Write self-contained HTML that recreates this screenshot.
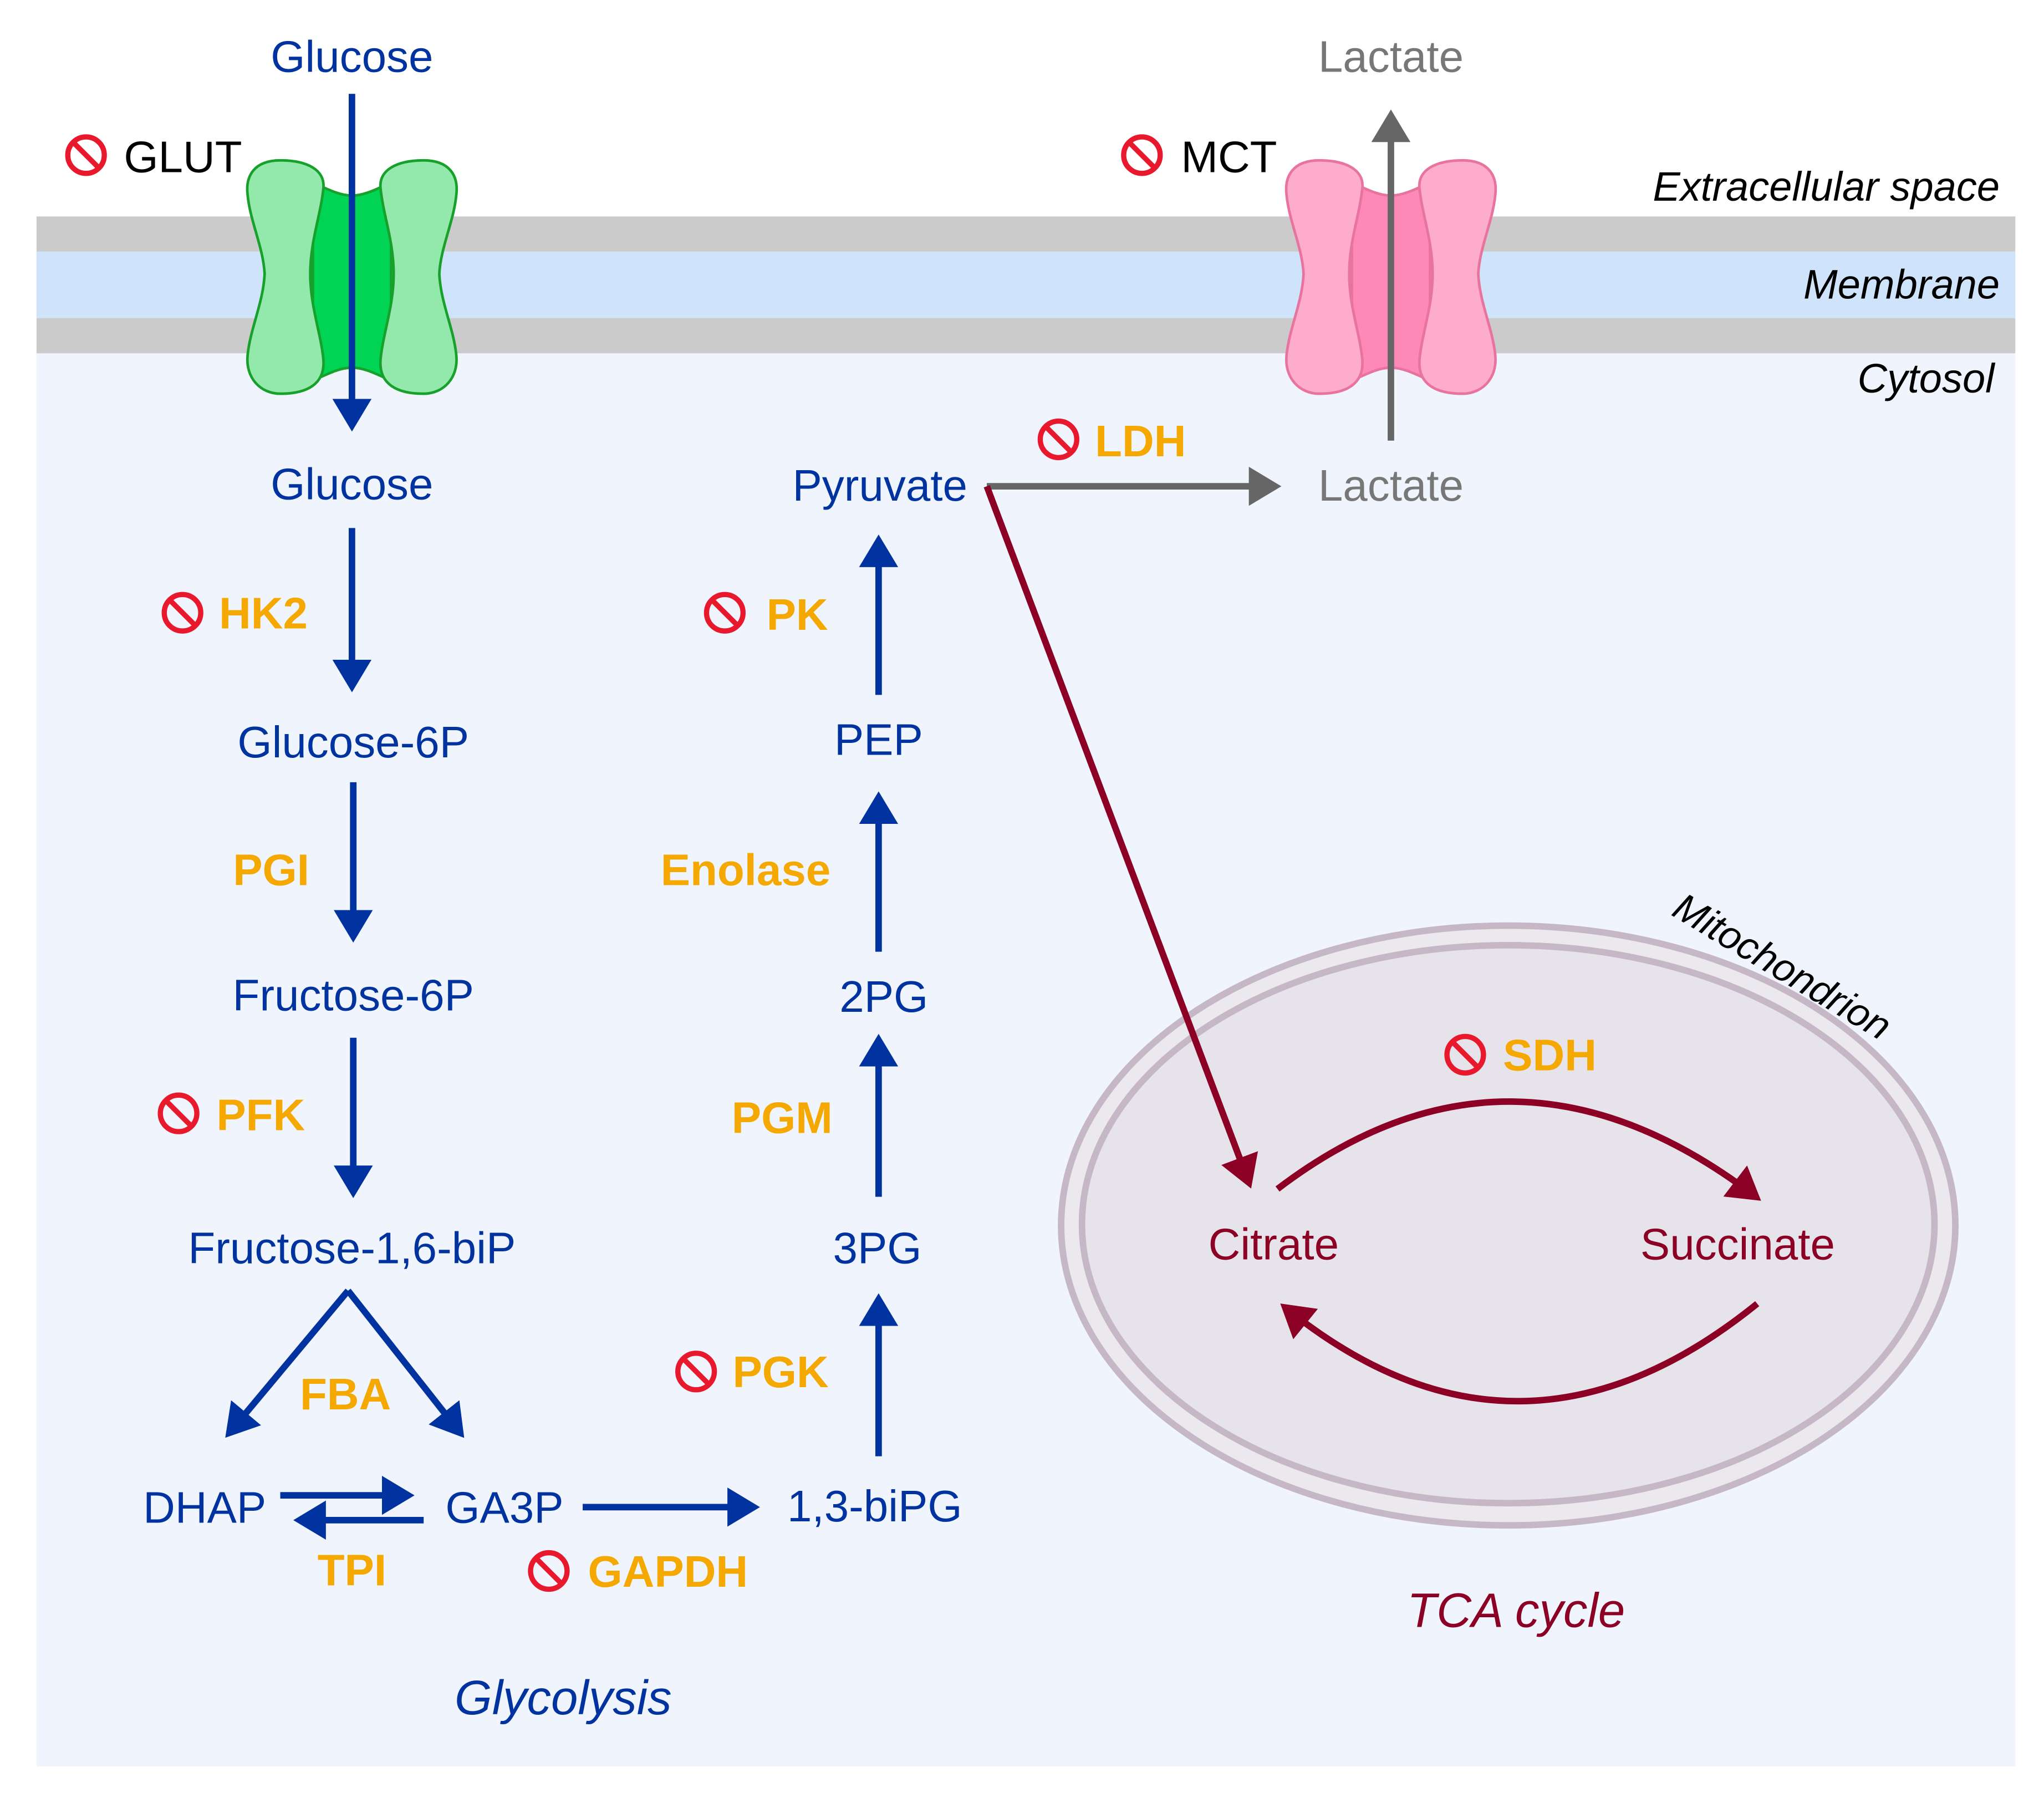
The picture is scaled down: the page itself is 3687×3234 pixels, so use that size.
<!DOCTYPE html>
<html><head><meta charset="utf-8"><style>html,body{margin:0;padding:0;background:#fff}svg{display:block}</style></head>
<body>
<svg width="3687" height="3234" viewBox="0 0 1568 1375.3" preserveAspectRatio="none" xmlns="http://www.w3.org/2000/svg" font-family="Liberation Sans, sans-serif">
<defs>
<marker id="ab" markerWidth="6" markerHeight="6" refX="4" refY="3" orient="auto" markerUnits="strokeWidth"><path d="M0,0 L5,3 L0,6 Z" fill="#0033a0"/></marker>
<marker id="ag" markerWidth="6" markerHeight="6" refX="4" refY="3" orient="auto" markerUnits="strokeWidth"><path d="M0,0 L5,3 L0,6 Z" fill="#666"/></marker>
<marker id="ar" markerWidth="6" markerHeight="6" refX="4" refY="3" orient="auto" markerUnits="strokeWidth"><path d="M0,0 L5,3 L0,6 Z" fill="#8b0024"/></marker>
<g id="inh"><circle r="14" fill="none" stroke="#e8192c" stroke-width="4"/><line x1="-10" y1="-10" x2="10" y2="10" stroke="#e8192c" stroke-width="4"/></g>
<path id="lobe" d="M215,123 C195,123 188,135 190,150 C192,170 202,190 203,210 C202,232 192,252 190,272 C188,290 200,302 215,302 C235,302 250,295 248,275 C246,255 238,235 238,210 C238,185 246,165 248,145 C250,130 235,123 215,123 Z"/>
</defs>
<rect x="28" y="270" width="1518" height="1085" fill="#eff4fd"/>
<rect x="28" y="166" width="1518" height="27" fill="#cbcbcb"/>
<rect x="28" y="193" width="1518" height="51" fill="#cfe3fa"/>
<rect x="28" y="244" width="1518" height="27" fill="#cbcbcb"/>
<g stroke="#17a02a" stroke-width="2">
<path d="M240,140 C255,147 262,150 270,150 C278,150 285,147 300,140 L300,292 C285,285 278,282 270,282 C262,282 255,285 240,292 Z" fill="#00d455"/>
<use href="#lobe" fill="#93e8ac"/>
<use href="#lobe" fill="#93e8ac" transform="translate(540,0) scale(-1,1)"/>
</g>
<g stroke="#e8739f" stroke-width="2" transform="translate(797,0)">
<path d="M240,140 C255,147 262,150 270,150 C278,150 285,147 300,140 L300,292 C285,285 278,282 270,282 C262,282 255,285 240,292 Z" fill="#fe88b6"/>
<use href="#lobe" fill="#feaccc"/>
<use href="#lobe" fill="#feaccc" transform="translate(540,0) scale(-1,1)"/>
</g>
<ellipse cx="1157" cy="940" rx="343" ry="230" fill="#ebe8ee" stroke="#c6b7c6" stroke-width="5"/>
<ellipse cx="1157" cy="939" rx="327" ry="214" fill="#e6e4ea" stroke="#c6b7c6" stroke-width="5"/>
<g stroke="#0033a0" stroke-width="5" fill="none" marker-end="url(#ab)">
<line x1="270" y1="72" x2="270" y2="326"/>
<line x1="270" y1="405" x2="270" y2="526"/>
<line x1="271" y1="600" x2="271" y2="718"/>
<line x1="271" y1="796" x2="271" y2="914"/>
<line x1="267" y1="990" x2="176" y2="1099"/>
<line x1="267" y1="990" x2="353" y2="1099"/>
<line x1="215" y1="1147" x2="313" y2="1147"/>
<line x1="325" y1="1166" x2="230" y2="1166"/>
<line x1="447" y1="1156" x2="578" y2="1156"/>
<line x1="674" y1="1117" x2="674" y2="997"/>
<line x1="674" y1="918" x2="674" y2="798"/>
<line x1="674" y1="730" x2="674" y2="612"/>
<line x1="674" y1="533" x2="674" y2="415"/>
</g>
<g stroke="#666" stroke-width="5" fill="none" marker-end="url(#ag)">
<line x1="757" y1="373" x2="978" y2="373"/>
<line x1="1067" y1="338" x2="1067" y2="89"/>
</g>
<g stroke="#8b0024" stroke-width="5" fill="none" marker-end="url(#ar)">
<line x1="757" y1="373" x2="958" y2="907"/>
<path d="M980,912 Q1160,775 1347,918"/>
<path d="M1348,1000 Q1165,1148 986,1003"/>
</g>
<g font-size="34" fill="#0033a0" text-anchor="middle">
<text x="270" y="55">Glucose</text>
<text x="270" y="383">Glucose</text>
<text x="271" y="581">Glucose-6P</text>
<text x="271" y="775">Fructose-6P</text>
<text x="270" y="969">Fructose-1,6-biP</text>
<text x="157" y="1168">DHAP</text>
<text x="387" y="1168">GA3P</text>
<text x="671" y="1167">1,3-biPG</text>
<text x="673" y="969">3PG</text>
<text x="678" y="776">2PG</text>
<text x="674" y="579">PEP</text>
<text x="675" y="384">Pyruvate</text>
</g>
<g font-size="34" fill="#777" text-anchor="middle">
<text x="1067" y="55">Lactate</text>
<text x="1067" y="384">Lactate</text>
</g>
<g font-size="34" fill="#8b0024" text-anchor="middle">
<text x="977" y="966">Citrate</text>
<text x="1333" y="966">Succinate</text>
<text x="1163" y="1248" font-style="italic" font-size="37">TCA cycle</text>
</g>
<text x="432" y="1315" font-size="37" font-style="italic" fill="#0033a0" text-anchor="middle">Glycolysis</text>
<g font-size="34" fill="#000">
<text x="95" y="132">GLUT</text>
<text x="906" y="132">MCT</text>
</g>
<g font-size="31.5" font-style="italic" fill="#000" text-anchor="end">
<text x="1534" y="154">Extracellular space</text>
<text x="1534" y="229">Membrane</text>
<text x="1530" y="301">Cytosol</text>
</g>
<text transform="translate(1362,750) rotate(31)" font-size="30" font-style="italic" text-anchor="middle">Mitochondrion</text>
<g font-size="34" font-weight="bold" fill="#f5a800">
<text x="168" y="482">HK2</text>
<text x="208" y="679" text-anchor="middle">PGI</text>
<text x="166" y="867">PFK</text>
<text x="265" y="1081" text-anchor="middle">FBA</text>
<text x="270" y="1216" text-anchor="middle">TPI</text>
<text x="451" y="1217">GAPDH</text>
<text x="562" y="1064">PGK</text>
<text x="600" y="869" text-anchor="middle">PGM</text>
<text x="572" y="679" text-anchor="middle">Enolase</text>
<text x="588" y="483">PK</text>
<text x="840" y="350">LDH</text>
<text x="1153" y="821">SDH</text>
</g>
<use href="#inh" x="66" y="119"/>
<use href="#inh" x="876" y="119"/>
<use href="#inh" x="140" y="470"/>
<use href="#inh" x="137" y="854"/>
<use href="#inh" x="421" y="1205"/>
<use href="#inh" x="534" y="1052"/>
<use href="#inh" x="556" y="470"/>
<use href="#inh" x="812" y="337"/>
<use href="#inh" x="1124" y="809"/>
</svg>
</body></html>
